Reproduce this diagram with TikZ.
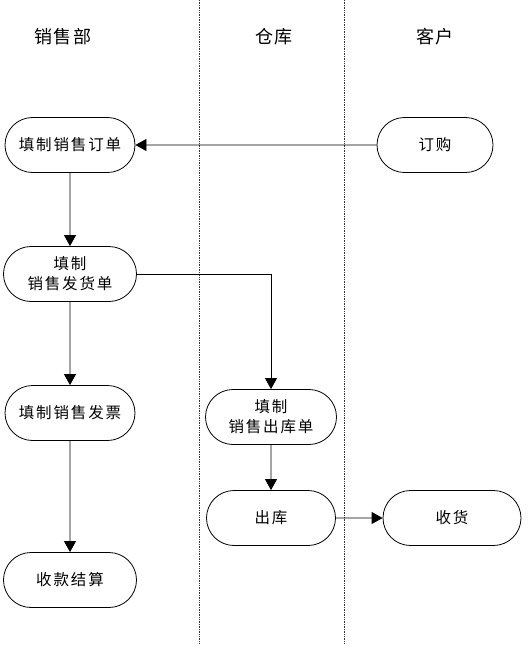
\documentclass[tikz,border=0pt]{standalone}
\usepackage{fontspec}
\newfontfamily\cjk[LetterSpace=12]{Noto Sans CJK SC}
\newfontfamily\cjkhead[LetterSpace=10]{Noto Sans CJK SC}
\usetikzlibrary{shapes.misc,arrows.meta}
\begin{document}
\begin{tikzpicture}[x=1pt,y=-1pt,
  proc/.style={rounded rectangle, draw, line width=0.8pt, inner sep=0pt,
    minimum height=55pt, align=center, font=\cjk\fontsize{15.5}{20}\selectfont},
  head/.style={font=\cjkhead\fontsize{18}{22}\selectfont},
  lane/.style={densely dotted, line width=0.7pt, black!80},
  flow/.style={line width=0.8pt, -{Triangle[length=11pt,width=12pt]}}]
\useasboundingbox (0,0) rectangle (528,650);
\coordinate (l1t) at (199,0); \coordinate (l1b) at (199,643);
\coordinate (l2t) at (344,0); \coordinate (l2b) at (344,643);
\draw[lane] (l1t) -- (l1b);
\draw[lane] (l2t) -- (l2b);
\node[head] (h1) at (63,37) {销售部};
\node[head] (h2) at (274,37) {仓库};
\node[head] (h3) at (435,37) {客户};
\node[proc, minimum width=130pt] (order) at (70,145) {填制销售订单};
\node[proc, minimum width=116pt] (buy) at (435,145) {订购};
\node[proc, minimum width=133pt] (ship) at (70,274) {填制\\销售发货单};
\node[proc, minimum width=130pt] (inv) at (70,413) {填制销售发票};
\node[proc, minimum width=133pt] (pay) at (70,580) {收款结算};
\node[proc, minimum width=131pt] (outbill) at (271,417) {填制\\销售出库单};
\node[proc, minimum width=129pt] (out) at (271,518) {出库};
\node[proc, minimum width=138pt] (recv) at (452,518) {收货};
\draw[flow] (buy) -- (order);
\draw[flow] (order) -- (ship);
\draw[flow] (ship.east) -| (outbill.north);
\draw[flow] (ship) -- (inv);
\draw[flow] (inv) -- (pay);
\draw[flow] (outbill) -- (out);
\draw[flow] (out) -- (recv);
\end{tikzpicture}
\end{document}
